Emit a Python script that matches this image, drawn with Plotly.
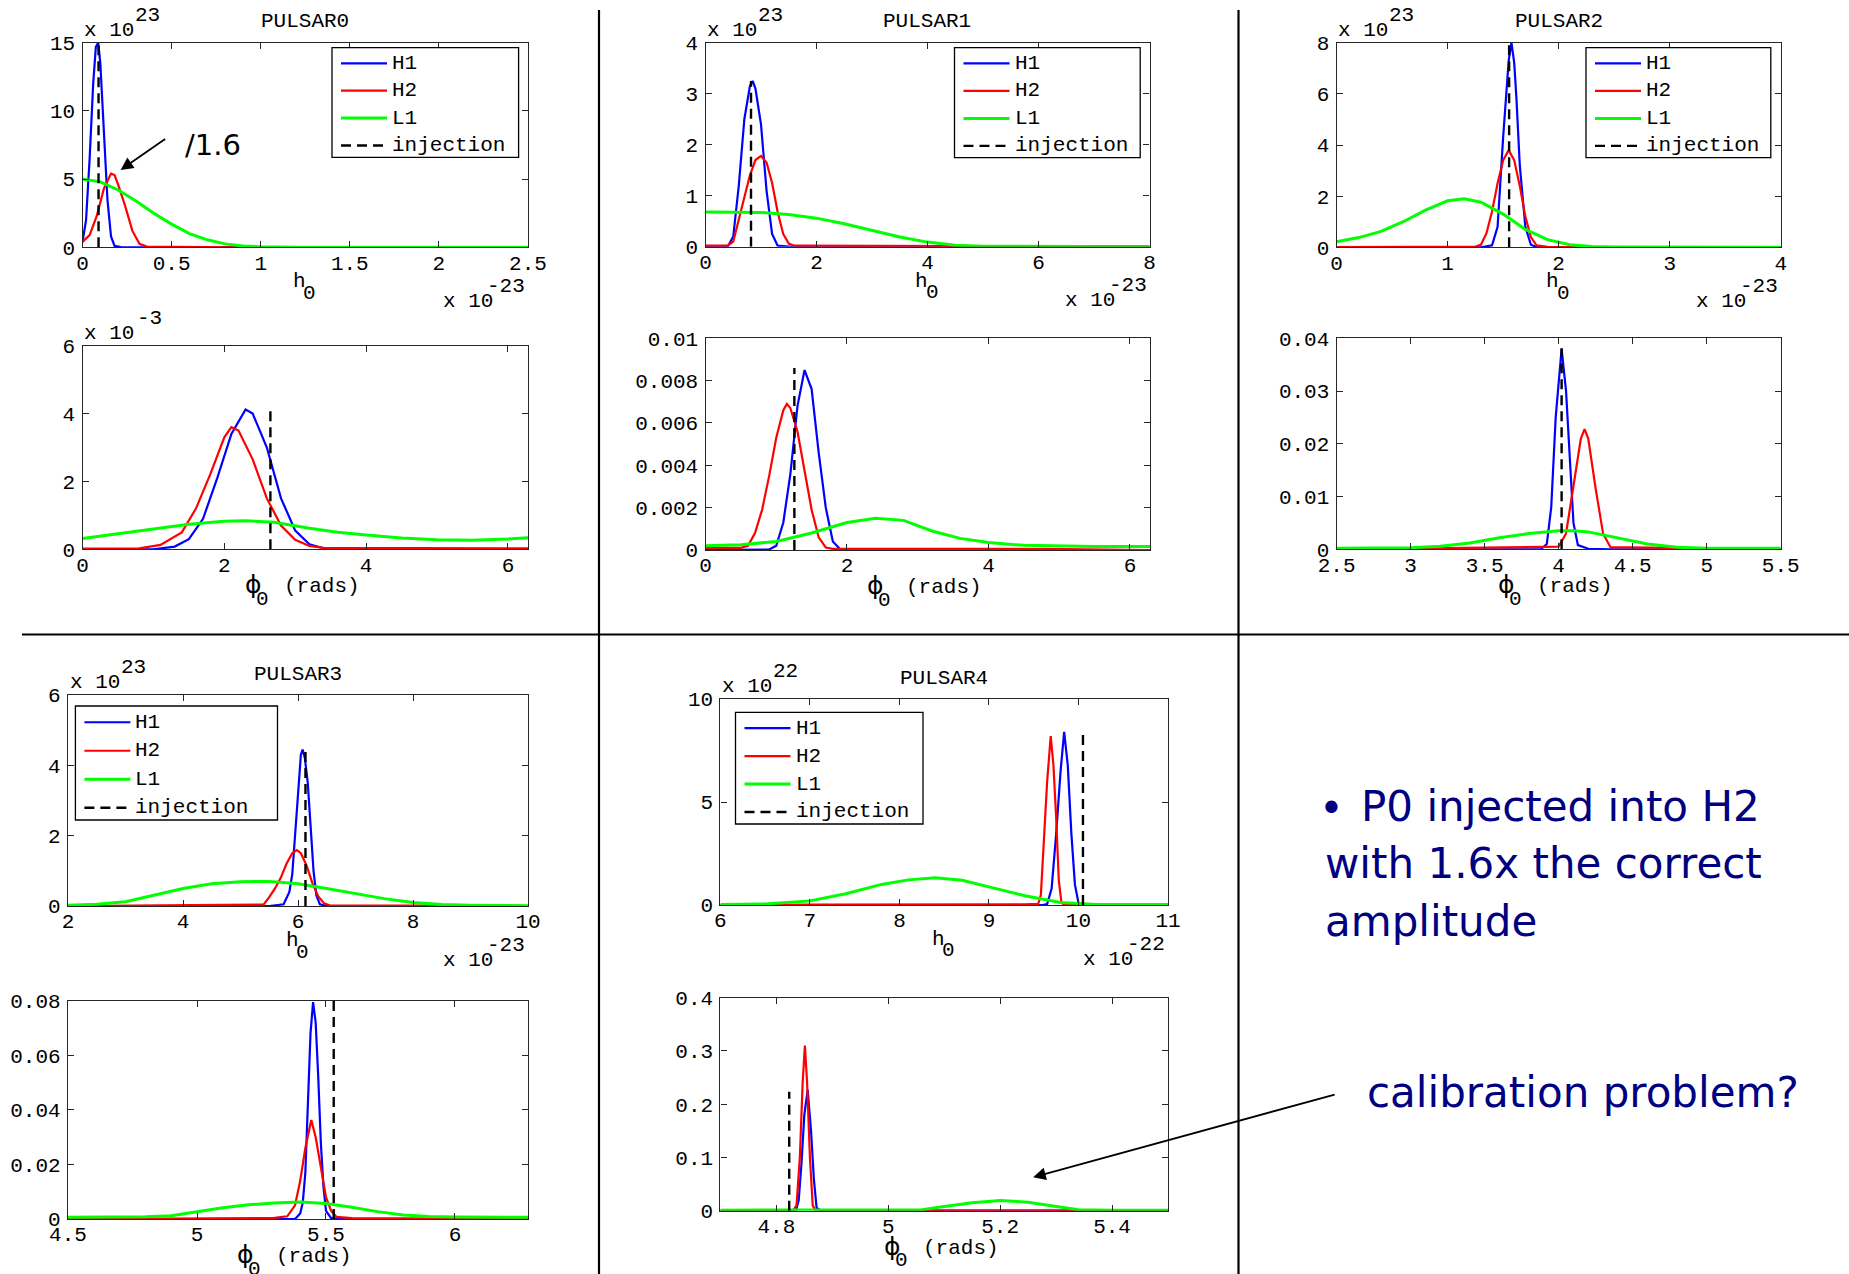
import plotly.graph_objects as go

# ======================= DATA =======================
PULSARS = ['PULSAR0', 'PULSAR1', 'PULSAR2', 'PULSAR3', 'PULSAR4']
SERIES = ['H1', 'H2', 'L1', 'injection']
EXP_Y = ['23', '23', '23', '23', '22']        # "x 10^.." above the h0 panels
EXP_X = ['-23', '-23', '-23', '-23', '-22']   # "x 10^.." below the h0 panels
EXP_PHI0 = '-3'                               # PULSAR0 phase panel multiplier

# ---- PULSAR0, h0 (x in 1e-23, y in 1e23)
P0H_H1_X = [0, 0.02, 0.04, 0.06, 0.075, 0.088, 0.10, 0.12, 0.14, 0.16, 0.18, 0.22, 0.35, 2.5]
P0H_H1_Y = [0.4, 2.0, 6.5, 12.0, 14.7, 15.0, 13.5, 8.5, 3.5, 0.8, 0.1, 0.0, 0.0, 0.0]
P0H_H2_X = [0, 0.04, 0.08, 0.12, 0.16, 0.18, 0.20, 0.24, 0.28, 0.32, 0.36, 0.6, 0.85, 2.5]
P0H_H2_Y = [0.4, 0.9, 2.3, 4.3, 5.4, 5.3, 4.6, 3.0, 1.2, 0.25, 0.05, 0.03, 0.0, 0.0]
P0H_L1_X = [0, 0.1, 0.2, 0.3, 0.4, 0.5, 0.6, 0.7, 0.8, 0.9, 1.0, 1.2, 2.5]
P0H_L1_Y = [5.0, 4.8, 4.2, 3.4, 2.5, 1.7, 1.0, 0.55, 0.25, 0.1, 0.04, 0.01, 0.0]
P0H_INJ_X = [0.09, 0.09]
P0H_INJ_Y = [0, 15]
P0H_XRANGE = [0, 2.5]
P0H_YRANGE = [0, 15]
P0H_XTICKS = [0, 0.5, 1, 1.5, 2, 2.5]
P0H_XLABELS = ['0', '0.5', '1', '1.5', '2', '2.5']
P0H_YTICKS = [0, 5, 10, 15]
P0H_YLABELS = ['0', '5', '10', '15']

# ---- PULSAR0, phi0 (y in 1e-3)
P0P_H1_X = [0, 1.0, 1.3, 1.5, 1.7, 1.9, 2.1, 2.3, 2.4, 2.6, 2.8, 3.0, 3.2, 3.4, 3.6, 6.283]
P0P_H1_Y = [0, 0, 0.08, 0.3, 0.9, 2.1, 3.4, 4.12, 4.0, 3.0, 1.5, 0.55, 0.15, 0.03, 0, 0]
P0P_H2_X = [0, 0.8, 1.1, 1.4, 1.6, 1.8, 2.0, 2.1, 2.2, 2.4, 2.6, 2.8, 3.0, 3.2, 3.4, 6.283]
P0P_H2_Y = [0.02, 0.03, 0.13, 0.5, 1.2, 2.2, 3.3, 3.6, 3.5, 2.65, 1.5, 0.7, 0.28, 0.1, 0.04, 0.03]
P0P_L1_X = [0, 0.5, 1.0, 1.5, 2.0, 2.3, 2.7, 3.2, 3.6, 4.0, 4.5, 5.0, 5.5, 6.0, 6.283]
P0P_L1_Y = [0.32, 0.45, 0.6, 0.74, 0.83, 0.84, 0.8, 0.62, 0.5, 0.42, 0.33, 0.28, 0.27, 0.3, 0.34]
P0P_INJ_X = [2.65, 2.65]
P0P_INJ_Y = [0, 4.15]
P0P_XRANGE = [0, 6.283]
P0P_YRANGE = [0, 6]
P0P_XTICKS = [0, 2, 4, 6]
P0P_XLABELS = ['0', '2', '4', '6']
P0P_YTICKS = [0, 2, 4, 6]
P0P_YLABELS = ['0', '2', '4', '6']

# ---- PULSAR1, h0
P1H_H1_X = [0, 0.4, 0.5, 0.6, 0.7, 0.8, 0.85, 0.9, 1.0, 1.1, 1.2, 1.3, 1.5, 8]
P1H_H1_Y = [0, 0, 0.2, 1.2, 2.5, 3.15, 3.25, 3.1, 2.4, 1.1, 0.25, 0.02, 0, 0]
P1H_H2_X = [0, 0.4, 0.5, 0.6, 0.7, 0.8, 0.9, 1.0, 1.1, 1.2, 1.3, 1.4, 1.5, 1.6, 4.6, 8]
P1H_H2_Y = [0.02, 0.02, 0.1, 0.55, 1.0, 1.4, 1.7, 1.78, 1.65, 1.25, 0.68, 0.25, 0.06, 0.02, 0.01, 0]
P1H_L1_X = [0, 0.5, 1.0, 1.5, 2.0, 2.5, 3.0, 3.5, 4.0, 4.5, 5.0, 8]
P1H_L1_Y = [0.68, 0.68, 0.67, 0.63, 0.56, 0.45, 0.32, 0.19, 0.09, 0.03, 0.01, 0]
P1H_INJ_X = [0.82, 0.82]
P1H_INJ_Y = [0, 3.25]
P1H_XRANGE = [0, 8]
P1H_YRANGE = [0, 4]
P1H_XTICKS = [0, 2, 4, 6, 8]
P1H_XLABELS = ['0', '2', '4', '6', '8']
P1H_YTICKS = [0, 1, 2, 3, 4]
P1H_YLABELS = ['0', '1', '2', '3', '4']

# ---- PULSAR1, phi0
P1P_H1_X = [0, 0.6, 0.9, 1.0, 1.1, 1.2, 1.3, 1.4, 1.5, 1.6, 1.7, 1.8, 1.9, 2.0, 6.283]
P1P_H1_Y = [0, 0, 0.00002, 0.0002, 0.0013, 0.0036, 0.0068, 0.0085, 0.0076, 0.0046, 0.002, 0.0004, 0.00005, 0, 0]
P1P_H2_X = [0, 0.5, 0.6, 0.7, 0.8, 0.9, 1.0, 1.1, 1.15, 1.2, 1.3, 1.4, 1.5, 1.6, 1.7, 1.8, 4.8, 6.283]
P1P_H2_Y = [0.0001, 0.0001, 0.0002, 0.0008, 0.0019, 0.0035, 0.0053, 0.0066, 0.0069, 0.0067, 0.0056,
            0.0038, 0.0019, 0.0006, 0.00012, 0.00005, 0.00005, 0]
P1P_L1_X = [0, 0.5, 1.0, 1.5, 2.0, 2.4, 2.8, 3.2, 3.6, 4.0, 4.5, 5.0, 5.5, 6.283]
P1P_L1_Y = [0.0002, 0.00025, 0.0004, 0.0008, 0.0013, 0.0015, 0.0014, 0.0009, 0.00055, 0.00035,
            0.00022, 0.00018, 0.00016, 0.00016]
P1P_INJ_X = [1.256, 1.256]
P1P_INJ_Y = [0, 0.0086]
P1P_XRANGE = [0, 6.283]
P1P_YRANGE = [0, 0.01]
P1P_XTICKS = [0, 2, 4, 6]
P1P_XLABELS = ['0', '2', '4', '6']
P1P_YTICKS = [0, 0.002, 0.004, 0.006, 0.008, 0.01]
P1P_YLABELS = ['0', '0.002', '0.004', '0.006', '0.008', '0.01']

# ---- PULSAR2, h0
P2H_H1_X = [0, 1.3, 1.4, 1.45, 1.5, 1.55, 1.575, 1.6, 1.62, 1.65, 1.7, 1.75, 1.8, 4]
P2H_H1_Y = [0, 0, 0.08, 0.8, 4.3, 7.3, 8.0, 7.2, 5.8, 3.2, 0.8, 0.1, 0.01, 0]
P2H_H2_X = [0, 0.8, 1.25, 1.3, 1.35, 1.4, 1.45, 1.5, 1.55, 1.6, 1.65, 1.7, 1.75, 1.8, 1.9, 2.2, 4]
P2H_H2_Y = [0.01, 0.02, 0.03, 0.1, 0.55, 1.4, 2.5, 3.4, 3.8, 3.4, 2.4, 1.2, 0.4, 0.08, 0.02, 0.01, 0]
P2H_L1_X = [0, 0.2, 0.4, 0.6, 0.8, 1.0, 1.15, 1.3, 1.5, 1.7, 1.9, 2.1, 2.3, 2.5, 4]
P2H_L1_Y = [0.22, 0.38, 0.62, 1.0, 1.45, 1.82, 1.9, 1.76, 1.3, 0.7, 0.3, 0.1, 0.03, 0.01, 0]
P2H_INJ_X = [1.554, 1.554]
P2H_INJ_Y = [0, 8]
P2H_XRANGE = [0, 4]
P2H_YRANGE = [0, 8]
P2H_XTICKS = [0, 1, 2, 3, 4]
P2H_XLABELS = ['0', '1', '2', '3', '4']
P2H_YTICKS = [0, 2, 4, 6, 8]
P2H_YLABELS = ['0', '2', '4', '6', '8']

# ---- PULSAR2, phi0
P2P_H1_X = [2.5, 3.88, 3.92, 3.95, 3.98, 4.02, 4.05, 4.08, 4.1, 4.13, 4.2, 4.35, 5.5]
P2P_H1_Y = [0, 0, 0.001, 0.008, 0.025, 0.038, 0.03, 0.016, 0.005, 0.0008, 0.0001, 0, 0]
P2P_H2_X = [2.5, 3.25, 3.7, 4.0, 4.05, 4.1, 4.15, 4.175, 4.2, 4.25, 4.3, 4.35, 4.85, 5.5]
P2P_H2_Y = [0, 0.0002, 0.0003, 0.0005, 0.003, 0.012, 0.021, 0.0228, 0.021, 0.0115, 0.003, 0.0004, 0.0002, 0]
P2P_L1_X = [2.5, 3.0, 3.2, 3.4, 3.6, 3.8, 4.0, 4.1, 4.2, 4.4, 4.6, 4.8, 5.0, 5.5]
P2P_L1_Y = [0.0002, 0.0003, 0.0006, 0.0012, 0.0022, 0.003, 0.0035, 0.0035, 0.0033, 0.0022, 0.001,
            0.0004, 0.0002, 0.0002]
P2P_INJ_X = [4.02, 4.02]
P2P_INJ_Y = [0, 0.0381]
P2P_XRANGE = [2.5, 5.5]
P2P_YRANGE = [0, 0.04]
P2P_XTICKS = [2.5, 3, 3.5, 4, 4.5, 5, 5.5]
P2P_XLABELS = ['2.5', '3', '3.5', '4', '4.5', '5', '5.5']
P2P_YTICKS = [0, 0.01, 0.02, 0.03, 0.04]
P2P_YLABELS = ['0', '0.01', '0.02', '0.03', '0.04']

# ---- PULSAR3, h0
P3H_H1_X = [2, 5.5, 5.75, 5.85, 5.9, 5.95, 6.0, 6.05, 6.08, 6.12, 6.17, 6.22, 6.27, 6.32, 6.38, 6.5, 10]
P3H_H1_Y = [0, 0, 0.05, 0.4, 0.9, 2.0, 3.3, 4.3, 4.45, 4.2, 3.5, 2.3, 1.0, 0.3, 0.05, 0, 0]
P3H_H2_X = [2, 2.8, 5.3, 5.4, 5.5, 5.6, 5.7, 5.8, 5.9, 5.98, 6.05, 6.15, 6.25, 6.35, 6.45, 6.55, 8.2, 10]
P3H_H2_Y = [0, 0.01, 0.02, 0.04, 0.25, 0.5, 0.8, 1.2, 1.5, 1.59, 1.5, 1.15, 0.65, 0.28, 0.08, 0.02, 0.01, 0]
P3H_L1_X = [2, 2.5, 3.0, 3.5, 4.0, 4.5, 5.0, 5.5, 6.0, 6.5, 7.0, 7.5, 8.0, 8.5, 9.0, 10]
P3H_L1_Y = [0.02, 0.05, 0.12, 0.3, 0.5, 0.63, 0.69, 0.7, 0.63, 0.5, 0.35, 0.21, 0.1, 0.04, 0.02, 0.01]
P3H_INJ_X = [6.13, 6.13]
P3H_INJ_Y = [0, 4.45]
P3H_XRANGE = [2, 10]
P3H_YRANGE = [0, 6]
P3H_XTICKS = [2, 4, 6, 8, 10]
P3H_XLABELS = ['2', '4', '6', '8', '10']
P3H_YTICKS = [0, 2, 4, 6]
P3H_YLABELS = ['0', '2', '4', '6']

# ---- PULSAR3, phi0
P3P_H1_X = [4.5, 5.38, 5.40, 5.41, 5.42, 5.43, 5.44, 5.45, 5.46, 5.47, 5.48, 5.49, 5.50, 5.52, 5.55, 6.283]
P3P_H1_Y = [0, 0, 0.002, 0.006, 0.017, 0.042, 0.068, 0.0795, 0.072, 0.052, 0.028, 0.012, 0.003, 0.0003, 0, 0]
P3P_H2_X = [4.5, 4.95, 5.3, 5.35, 5.38, 5.40, 5.42, 5.443, 5.46, 5.48, 5.5, 5.52, 5.54, 5.6, 5.85, 6.283]
P3P_H2_Y = [0, 0.0002, 0.0004, 0.001, 0.005, 0.014, 0.026, 0.0363, 0.03, 0.019, 0.008, 0.003, 0.0008,
            0.0003, 0.0002, 0]
P3P_L1_X = [4.5, 4.8, 4.9, 5.0, 5.1, 5.2, 5.3, 5.4, 5.5, 5.6, 5.7, 5.8, 5.9, 6.0, 6.283]
P3P_L1_Y = [0.0006, 0.0008, 0.0012, 0.0027, 0.0041, 0.0052, 0.0059, 0.0062, 0.0057, 0.0043, 0.0027,
            0.0015, 0.0009, 0.0007, 0.0006]
P3P_INJ_X = [5.53, 5.53]
P3P_INJ_Y = [0, 0.08]
P3P_XRANGE = [4.5, 6.283]
P3P_YRANGE = [0, 0.08]
P3P_XTICKS = [4.5, 5, 5.5, 6]
P3P_XLABELS = ['4.5', '5', '5.5', '6']
P3P_YTICKS = [0, 0.02, 0.04, 0.06, 0.08]
P3P_YLABELS = ['0', '0.02', '0.04', '0.06', '0.08']

# ---- PULSAR4, h0 (x in 1e-22, y in 1e22)
P4H_H1_X = [6, 9.6, 9.65, 9.7, 9.75, 9.8, 9.84, 9.88, 9.92, 9.96, 10.0, 10.05, 11]
P4H_H1_Y = [0, 0, 0.05, 0.8, 3.4, 6.5, 8.4, 6.8, 3.5, 1.0, 0.1, 0, 0]
P4H_H2_X = [6, 7, 9.4, 9.55, 9.58, 9.61, 9.65, 9.69, 9.72, 9.75, 9.78, 9.81, 9.85, 11]
P4H_H2_Y = [0, 0.02, 0.03, 0.05, 0.5, 2.8, 6.0, 8.2, 6.8, 4.3, 1.2, 0.1, 0, 0]
P4H_L1_X = [6, 6.5, 7.0, 7.4, 7.8, 8.1, 8.4, 8.7, 9.0, 9.4, 9.8, 10.2, 11]
P4H_L1_Y = [0.02, 0.05, 0.2, 0.55, 1.0, 1.22, 1.32, 1.2, 0.88, 0.45, 0.12, 0.03, 0.02]
P4H_INJ_X = [10.05, 10.05]
P4H_INJ_Y = [0, 8.3]
P4H_XRANGE = [6, 11]
P4H_YRANGE = [0, 10]
P4H_XTICKS = [6, 7, 8, 9, 10, 11]
P4H_XLABELS = ['6', '7', '8', '9', '10', '11']
P4H_YTICKS = [0, 5, 10]
P4H_YLABELS = ['0', '5', '10']

# ---- PULSAR4, phi0
P4P_H1_X = [4.7, 4.835, 4.84, 4.845, 4.85, 4.856, 4.862, 4.867, 4.872, 4.88, 5.5]
P4P_H1_Y = [0, 0, 0.02, 0.09, 0.18, 0.227, 0.15, 0.06, 0.005, 0, 0]
P4P_H2_X = [4.7, 4.83, 4.836, 4.842, 4.847, 4.851, 4.855, 4.86, 4.865, 4.87, 5.06, 5.33, 5.5]
P4P_H2_Y = [0, 0, 0.01, 0.1, 0.24, 0.31, 0.24, 0.1, 0.01, 0, 0, 0, 0]
P4P_L1_X = [4.7, 5.0, 5.06, 5.1, 5.15, 5.2, 5.25, 5.3, 5.34, 5.4, 5.5]
P4P_L1_Y = [0.001, 0.001, 0.002, 0.008, 0.015, 0.019, 0.016, 0.008, 0.002, 0.001, 0.001]
P4P_INJ_X = [4.823, 4.823]
P4P_INJ_Y = [0, 0.2235]
P4P_XRANGE = [4.7, 5.5]
P4P_YRANGE = [0, 0.4]
P4P_XTICKS = [4.8, 5, 5.2, 5.4]
P4P_XLABELS = ['4.8', '5', '5.2', '5.4']
P4P_YTICKS = [0, 0.1, 0.2, 0.3, 0.4]
P4P_YLABELS = ['0', '0.1', '0.2', '0.3', '0.4']

NOTE_LINES = ['P0 injected into H2', 'with 1.6x the correct', 'amplitude']
NOTE_CALIB = 'calibration problem?'
NOTE_SCALE = '/1.6'
ARROW_P0_TIP = [0.214, 5.67]        # in PULSAR0 h0 data coordinates
ARROW_CALIB_TIP = [5.259, 0.063]    # in PULSAR4 phi0 data coordinates

# ======================= LAYOUT / STYLE =======================
W, H = 1849, 1274
MONO = 'Liberation Mono'
SANS = 'DejaVu Sans'
NAVY = '#000080'
AXC = '#262626'
COLORS = {'H1': '#0000ff', 'H2': '#ff0000', 'L1': '#00ff00', 'injection': '#000000'}
WIDTHS = {'H1': 2.2, 'H2': 2.2, 'L1': 3.0, 'injection': 2.4}
DASH = '10px,6px'


def px(x):
    return x / W


def py(y):
    return 1 - y / H


# panel boxes in pixels: left, right, top, bottom ; legend boxes: left, right, top, bottom
PANELS = [
    dict(p=0, kind='h', box=(82.5, 528, 42.7, 247.3),
         d=[(P0H_H1_X, P0H_H1_Y), (P0H_H2_X, P0H_H2_Y), (P0H_L1_X, P0H_L1_Y), (P0H_INJ_X, P0H_INJ_Y)],
         xr=P0H_XRANGE, yr=P0H_YRANGE, xt=(P0H_XTICKS, P0H_XLABELS), yt=(P0H_YTICKS, P0H_YLABELS),
         leg=(332, 518.6, 47.7, 157.3)),
    dict(p=0, kind='phi', box=(82.5, 528, 345.7, 549.3),
         d=[(P0P_H1_X, P0P_H1_Y), (P0P_H2_X, P0P_H2_Y), (P0P_L1_X, P0P_L1_Y), (P0P_INJ_X, P0P_INJ_Y)],
         xr=P0P_XRANGE, yr=P0P_YRANGE, xt=(P0P_XTICKS, P0P_XLABELS), yt=(P0P_YTICKS, P0P_YLABELS)),
    dict(p=1, kind='h', box=(705.5, 1149.5, 42.7, 246.7),
         d=[(P1H_H1_X, P1H_H1_Y), (P1H_H2_X, P1H_H2_Y), (P1H_L1_X, P1H_L1_Y), (P1H_INJ_X, P1H_INJ_Y)],
         xr=P1H_XRANGE, yr=P1H_YRANGE, xt=(P1H_XTICKS, P1H_XLABELS), yt=(P1H_YTICKS, P1H_YLABELS),
         leg=(954.5, 1140.2, 47.7, 157.7)),
    dict(p=1, kind='phi', box=(705.5, 1150, 338.3, 550),
         d=[(P1P_H1_X, P1P_H1_Y), (P1P_H2_X, P1P_H2_Y), (P1P_L1_X, P1P_L1_Y), (P1P_INJ_X, P1P_INJ_Y)],
         xr=P1P_XRANGE, yr=P1P_YRANGE, xt=(P1P_XTICKS, P1P_XLABELS), yt=(P1P_YTICKS, P1P_YLABELS)),
    dict(p=2, kind='h', box=(1336.6, 1780.7, 42.7, 247.3),
         d=[(P2H_H1_X, P2H_H1_Y), (P2H_H2_X, P2H_H2_Y), (P2H_L1_X, P2H_L1_Y), (P2H_INJ_X, P2H_INJ_Y)],
         xr=P2H_XRANGE, yr=P2H_YRANGE, xt=(P2H_XTICKS, P2H_XLABELS), yt=(P2H_YTICKS, P2H_YLABELS),
         leg=(1586, 1770.8, 47.7, 157.7)),
    dict(p=2, kind='phi', box=(1336.6, 1780.7, 338.3, 549.3),
         d=[(P2P_H1_X, P2P_H1_Y), (P2P_H2_X, P2P_H2_Y), (P2P_L1_X, P2P_L1_Y), (P2P_INJ_X, P2P_INJ_Y)],
         xr=P2P_XRANGE, yr=P2P_YRANGE, xt=(P2P_XTICKS, P2P_XLABELS), yt=(P2P_YTICKS, P2P_YLABELS)),
    dict(p=3, kind='h', box=(68, 528, 695, 906),
         d=[(P3H_H1_X, P3H_H1_Y), (P3H_H2_X, P3H_H2_Y), (P3H_L1_X, P3H_L1_Y), (P3H_INJ_X, P3H_INJ_Y)],
         xr=P3H_XRANGE, yr=P3H_YRANGE, xt=(P3H_XTICKS, P3H_XLABELS), yt=(P3H_YTICKS, P3H_YLABELS),
         leg=(75.4, 277.5, 706, 820)),
    dict(p=3, kind='phi', box=(68, 528, 1000.7, 1219),
         d=[(P3P_H1_X, P3P_H1_Y), (P3P_H2_X, P3P_H2_Y), (P3P_L1_X, P3P_L1_Y), (P3P_INJ_X, P3P_INJ_Y)],
         xr=P3P_XRANGE, yr=P3P_YRANGE, xt=(P3P_XTICKS, P3P_XLABELS), yt=(P3P_YTICKS, P3P_YLABELS)),
    dict(p=4, kind='h', box=(720.4, 1168, 699, 905),
         d=[(P4H_H1_X, P4H_H1_Y), (P4H_H2_X, P4H_H2_Y), (P4H_L1_X, P4H_L1_Y), (P4H_INJ_X, P4H_INJ_Y)],
         xr=P4H_XRANGE, yr=P4H_YRANGE, xt=(P4H_XTICKS, P4H_XLABELS), yt=(P4H_YTICKS, P4H_YLABELS),
         leg=(735.5, 923, 712.3, 824)),
    dict(p=4, kind='phi', box=(720.4, 1168, 997.7, 1210.7),
         d=[(P4P_H1_X, P4P_H1_Y), (P4P_H2_X, P4P_H2_Y), (P4P_L1_X, P4P_L1_Y), (P4P_INJ_X, P4P_INJ_Y)],
         xr=P4P_XRANGE, yr=P4P_YRANGE, xt=(P4P_XTICKS, P4P_XLABELS), yt=(P4P_YTICKS, P4P_YLABELS)),
]

fig = go.Figure()
annotations = []
shapes = []
layout = dict(template='none', width=W, height=H, margin=dict(l=0, r=0, t=0, b=0, pad=0, autoexpand=False),
              paper_bgcolor='white', plot_bgcolor='white', showlegend=False)


def txt(x, y, s, size=21, family=MONO, xanchor='center', yanchor='middle', color='#000000'):
    annotations.append(dict(x=px(x), y=py(y), xref='paper', yref='paper', text=s, showarrow=False,
                            xanchor=xanchor, yanchor=yanchor, borderpad=0,
                            font=dict(family=family, size=size, color=color)))


def seg(x0, y0, x1, y1, color='#000000', width=2.2, dash='solid'):
    shapes.append(dict(type='line', xref='paper', yref='paper', x0=px(x0), x1=px(x1), y0=py(y0), y1=py(y1),
                       layer='above', line=dict(color=color, width=width, dash=dash)))


for i, pn in enumerate(PANELS):
    n = i + 1
    xa = 'x' if n == 1 else f'x{n}'
    ya = 'y' if n == 1 else f'y{n}'
    l, r, t, b = pn['box']
    for (xs, ys), name in zip(pn['d'], SERIES):
        fig.add_trace(go.Scatter(
            x=xs, y=ys, mode='lines', name=name, xaxis=xa, yaxis=ya, showlegend=False,
            line=dict(color=COLORS[name], width=WIDTHS[name], dash=DASH if name == 'injection' else 'solid'),
            hoverinfo='skip'))

    axis_common = dict(showgrid=False, zeroline=False, showline=True, linecolor=AXC, linewidth=1.2,
                       mirror='allticks', ticks='inside', ticklen=6, tickwidth=1.2, tickcolor=AXC,
                       automargin=False, tickmode='array',
                       tickfont=dict(family=MONO, size=21, color='#000000'), fixedrange=True)
    layout['xaxis' if n == 1 else f'xaxis{n}'] = dict(
        axis_common, domain=[px(l), px(r)], range=pn['xr'], anchor=ya,
        tickvals=pn['xt'][0], ticktext=pn['xt'][1], ticklabelstandoff=-4)
    layout['yaxis' if n == 1 else f'yaxis{n}'] = dict(
        axis_common, domain=[py(b), py(t)], range=pn['yr'], anchor=xa,
        tickvals=pn['yt'][0], ticktext=pn['yt'][1], ticklabelstandoff=2)

    cx = (l + r) / 2
    k = pn['p']
    if pn['kind'] == 'h':
        txt(cx, t - 21, PULSARS[k])
        txt(l + 0.5, t - 12.5, 'x 10', xanchor='left')
        txt(l + 51.5, t - 27.5, EXP_Y[k], xanchor='left')
        txt(r - 34, b + 54, 'x 10', xanchor='right')
        txt(r - 2, b + 39, EXP_X[k], xanchor='right')
        txt(cx - 6, b + 34.5, 'h')
        txt(cx + 4.5, b + 46, '0')
        # legend box (MATLAB style), drawn from the series names / styles
        ll, lr, lt, lb = pn['leg']
        shapes.append(dict(type='rect', xref='paper', yref='paper', x0=px(ll), x1=px(lr), y0=py(lb), y1=py(lt),
                           layer='above', fillcolor='white', line=dict(color='#000000', width=1.3)))
        rh = (lb - lt) / len(SERIES)
        for j, name in enumerate(SERIES):
            yy = lt + rh * (j + 0.57)
            seg(ll + 9, yy, ll + 55, yy, color=COLORS[name], width=WIDTHS[name],
                dash=DASH if name == 'injection' else 'solid')
            txt(ll + 59, yy, name, xanchor='left')
    else:
        txt(cx - 52, b + 35.5, 'ϕ', size=25, family=SANS)
        txt(cx - 43, b + 50, '0')
        txt(cx + 16.4, b + 37.4, '(rads)')
        if k == 0:
            txt(l + 0.5, t - 12.4, 'x 10', xanchor='left')
            txt(l + 53.5, t - 27.4, EXP_PHI0, xanchor='left')

# free text on the slide
txt(184, 145, NOTE_SCALE, size=29, family=SANS, xanchor='left')
annotations.append(dict(x=ARROW_P0_TIP[0], y=ARROW_P0_TIP[1], xref='x', yref='y', text='',
                        showarrow=True, ax=46, ay=-32, arrowhead=2, arrowsize=1.4, arrowwidth=1.8,
                        arrowcolor='#000000', standoff=0))
txt(1331.8, 808, '•', size=42, family=SANS, color=NAVY)
txt(1360, 806, NOTE_LINES[0], size=42, family=SANS, xanchor='left', color=NAVY)
txt(1323.5, 863, NOTE_LINES[1], size=42, family=SANS, xanchor='left', color=NAVY)
txt(1323.5, 921, NOTE_LINES[2], size=42, family=SANS, xanchor='left', color=NAVY)
txt(1366, 1092, NOTE_CALIB, size=42, family=SANS, xanchor='left', color=NAVY)
annotations.append(dict(x=ARROW_CALIB_TIP[0], y=ARROW_CALIB_TIP[1], xref='x10', yref='y10', text='',
                        showarrow=True, ax=303, ay=-83, arrowhead=2, arrowsize=1.4, arrowwidth=1.8,
                        arrowcolor='#000000', standoff=0))

# slide table lines
seg(599, 10, 599, H)
seg(1238.5, 10, 1238.5, H)
seg(22, 634.5, W, 634.5)

layout['annotations'] = annotations
layout['shapes'] = shapes
fig.update_layout(**layout)

fig.write_html("out.html", config={'displayModeBar': False},
               post_script="document.body.style.margin='0';document.body.style.overflow='hidden';")
